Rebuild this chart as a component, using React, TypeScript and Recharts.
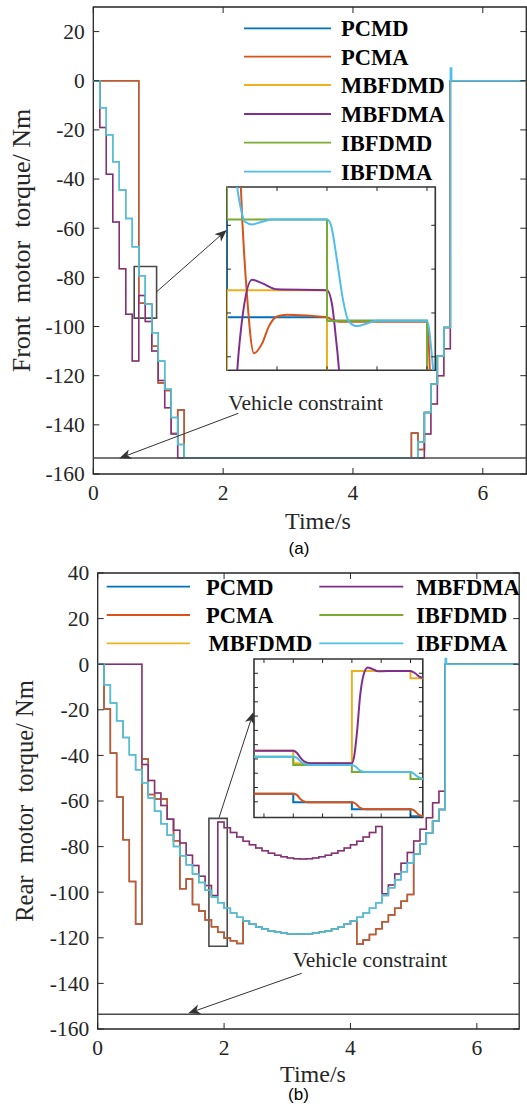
import React from 'react';
import { LineChart, Line, XAxis, YAxis, ReferenceArea } from 'recharts';

// ---------- series meta ----------
const seriesNames = ['PCMD', 'PCMA', 'MBFDMD', 'MBFDMA', 'IBFDMD', 'IBFDMA'];
const seriesColors = ['#0072BD', '#D95319', '#EDB120', '#7E2F8E', '#77AC30', '#4DBEEE'];
const vehicleConstraint = -153.5;
const xTicks = [0, 2, 4, 6];
const frontYTicks = [-160, -140, -120, -100, -80, -60, -40, -20, 0, 20];
const rearYTicks = [-160, -140, -120, -100, -80, -60, -40, -20, 0, 20, 40];

// ---------- (a) front motor torque ----------
const frontTime = [0, 0.1, 0.2, 0.3, 0.4, 0.5, 0.6, 0.7, 0.8, 0.9, 1.0, 1.1, 1.2, 1.3, 1.4, 4.9, 5.0, 5.1, 5.2, 5.3, 5.4, 5.5, 5.52, 6.67];
const frontPCMD = [0, 0, 0, 0, 0, 0, 0, -90.5, -90.9, -108, -123, -126, -143.5, -134, -153.5, -143.3, -150, -135, -123.4, -112, -100.4, 0, 0, 0];
const frontPCMA = [0, 0, 0, 0, 0, 0, 0, -90.5, -90.9, -108, -123, -126, -143.5, -134, -153.5, -143.3, -150, -135, -123.4, -112, -100.4, 0, 0, 0];
const frontMBFDMD = [0, -19, -38, -57.5, -76.5, -95, -114, -87.4, -98, -110, -122, -133, -143.7, -153.5, -153.5, -153.5, -153.5, -143.7, -131.5, -120, -109, 0, 0, 0];
const frontMBFDMA = [0, -19, -38, -57.5, -76.5, -95, -114, -87.4, -98, -110, -122, -133, -143.7, -153.5, -153.5, -153.5, -153.5, -143.7, -131.5, -120, -109, 0, 0, 0];
const frontIBFDMD = [0, -11, -22, -33, -44.5, -56, -67.5, -79.35, -90.9, -102.5, -114, -125.5, -137, -148, -153.5, -153.5, -147, -135, -123.4, -112, -100.4, 0, 0, 0];
const frontIBFDMA = [0, -11, -22, -33, -44.5, -56, -67.5, -79.35, -90.9, -102.5, -114, -125.5, -137, -148, -153.5, -153.5, -147, -135, -123.4, -112, -100.4, 5.2, 0, 0];

// ---------- (b) rear motor torque ----------
const rearTime = [0, 0.1, 0.2, 0.3, 0.4, 0.5, 0.6, 0.7, 0.8, 0.9, 1.0, 1.1, 1.2, 1.3, 1.4, 1.5, 1.6, 1.7, 1.8, 1.9, 2.0, 2.1, 2.2, 2.3, 2.4, 2.5, 2.6, 2.7, 2.8, 2.9, 3.0, 3.1, 3.2, 3.3, 3.4, 3.5, 3.6, 3.7, 3.8, 3.9, 4.0, 4.1, 4.2, 4.3, 4.4, 4.5, 4.6, 4.7, 4.8, 4.9, 5.0, 5.1, 5.2, 5.3, 5.4, 5.5, 5.52, 6.67];
const rearPCMD = [0, -19.7, -39, -58.2, -77, -95.3, -114, -41.6, -57.2, -59.1, -59.1, -68, -77.4, -98.5, -94.2, -105.4, -108.3, -112.2, -115.2, -117.6, -120.1, -121.3, -122.5, -112.6, -114, -115.2, -116.2, -117, -117.6, -118, -118.2, -118.3, -118.3, -118.2, -118, -117.6, -117, -116.2, -115.2, -114, -112.6, -122.7, -121, -118.5, -116, -113, -110, -107, -104, -101, -83.4, -79, -73.9, -68.8, -63.7, 0, 0, 0];
const rearPCMA = [0, -19.7, -39, -58.2, -77, -95.3, -114, -41.6, -57.2, -59.1, -59.1, -68, -77.4, -98.5, -94.2, -105.4, -108.3, -112.2, -115.2, -117.6, -120.1, -121.3, -122.5, -112.6, -114, -115.2, -116.2, -117, -117.6, -118, -118.2, -118.3, -118.3, -118.2, -118, -117.6, -117, -116.2, -115.2, -114, -112.6, -122.7, -121, -118.5, -116, -113, -110, -107, -104, -101, -83.4, -79, -73.9, -68.8, -63.7, 0, 0, 0];
const rearMBFDMD = [0, 0, 0, 0, 0, 0, 0, -44, -51, -56.5, -62, -68, -72.8, -78.4, -83.8, -88.3, -93, -97.1, -101.5, -69.2, -71.7, -73.8, -75.8, -77.6, -79.2, -80.6, -81.8, -82.9, -83.8, -84.5, -85, -85.3, -85.4, -85.3, -85, -84.5, -83.8, -82.9, -81.8, -80.6, -79.2, -77.6, -75.8, -73.8, -71.2, -100.7, -96.8, -92, -87.3, -82.6, -77.5, -72.4, -67.3, -60.8, -55.7, 0, 0, 0];
const rearMBFDMA = [0, 0, 0, 0, 0, 0, 0, -44, -51, -56.5, -62, -68, -72.8, -78.4, -83.8, -88.3, -93, -97.1, -101.5, -69.2, -71.7, -73.8, -75.8, -77.6, -79.2, -80.6, -81.8, -82.9, -83.8, -84.5, -85, -85.3, -85.4, -85.3, -85, -84.5, -83.8, -82.9, -81.8, -80.6, -79.2, -77.6, -75.8, -73.8, -71.2, -100.7, -96.8, -92, -87.3, -82.6, -77.5, -72.4, -67.3, -60.8, -55.7, 0, 0, 0];
const rearIBFDMD = [0, -9, -17, -24.8, -32.1, -39.7, -46.3, -52, -58.7, -64.5, -70, -75, -80, -84, -88, -92, -95.7, -99.2, -102.1, -104.6, -107, -109.1, -111, -112.6, -114, -115.2, -116.2, -117, -117.6, -118, -118.2, -118.3, -118.3, -118.2, -118, -117.6, -117, -116.2, -115.2, -114, -112.6, -111, -109.1, -107, -104.6, -101.5, -98, -94.5, -91, -87.2, -83.4, -79, -73.9, -68.8, -63.7, 0, 0, 0];
const rearIBFDMA = [0, -9, -17, -24.8, -32.1, -39.7, -46.3, -52, -58.7, -64.5, -70, -75, -80, -84, -88, -92, -95.7, -99.2, -102.1, -104.6, -107, -109.1, -111, -112.6, -114, -115.2, -116.2, -117, -117.6, -118, -118.2, -118.3, -118.3, -118.2, -118, -117.6, -117, -116.2, -115.2, -114, -112.6, -111, -109.1, -107, -104.6, -101.5, -98, -94.5, -91, -87.2, -83.4, -79, -73.9, -68.8, -63.7, 2.5, 0, 0];

// ---------- inset of (a) ----------
const frontInsetXTicks = [0.75, 0.8, 0.85, 0.9];
const frontInsetYTicks = [-80, -85, -90, -95];
const fiPCMD_t = [0.69, 0.7, 0.8, 0.9, 0.95];
const fiPCMD_v = [0, -90.5, -90.9, -108, -108];
const fiPCMA_t = [0.69, 0.7, 0.714, 0.72, 0.727, 0.735, 0.742, 0.75, 0.76, 0.8, 0.806, 0.813, 0.9, 0.904, 0.91];
const fiPCMA_v = [0, 0, -76, -88, -94.6, -93.5, -91.5, -90.4, -90.2, -90.5, -90.8, -91, -91, -100, -120];
const fiMBFDMD_t = [0.69, 0.7, 0.8, 0.9, 0.95];
const fiMBFDMD_v = [-114, -87.4, -98, -110, -110];
const fiMBFDMA_t = [0.69, 0.7, 0.705, 0.71, 0.716, 0.725, 0.735, 0.75, 0.8, 0.805, 0.81, 0.815, 0.83];
const fiMBFDMA_v = [-114, -114, -108, -97, -90, -86.2, -86.6, -87.3, -87.4, -89, -94, -99, -99];
const fiIBFDMD_t = [0.69, 0.7, 0.8, 0.9, 0.95];
const fiIBFDMD_v = [-67.5, -79.35, -90.9, -102.5, -102.5];
const fiIBFDMA_t = [0.69, 0.7, 0.706, 0.712, 0.718, 0.725, 0.735, 0.745, 0.8, 0.804, 0.81, 0.816, 0.822, 0.83, 0.84, 0.85, 0.9, 0.905, 0.91];
const fiIBFDMA_v = [-67.5, -67.5, -72, -77, -79.6, -79.9, -79.6, -79.35, -79.35, -80, -84, -88.5, -91, -91.5, -91.2, -90.9, -90.9, -95, -102.5];

// ---------- inset of (b) ----------
const rearInsetXTicks = [1.75, 1.8, 1.85, 1.9, 1.95, 2.0];
const rearInsetYTicks = [-70, -75, -80, -85, -90, -95, -100, -105, -110, -115];
const riPCMD_t = [1.7, 1.8, 1.9, 2.0, 2.1];
const riPCMD_v = [-112.2, -115.2, -117.6, -120.1, -121.3];
const riPCMA_t = [1.7, 1.8, 1.806, 1.812, 1.82, 1.83, 1.9, 1.906, 1.912, 1.92, 1.93, 2.0, 2.006, 2.012, 2.02, 2.03];
const riPCMA_v = [-112.2, -112.2, -112.6, -114, -115, -115.2, -115.2, -115.6, -116.8, -117.5, -117.6, -117.6, -118, -119.2, -120, -120.1];
const riMBFDMD_t = [1.7, 1.8, 1.9, 2.0, 2.1];
const riMBFDMD_v = [-97.1, -101.5, -69.2, -71.7, -73.8];
const riMBFDMA_t = [1.7, 1.8, 1.806, 1.812, 1.82, 1.83, 1.9, 1.904, 1.909, 1.914, 1.92, 1.927, 1.935, 1.945, 1.96, 2.0, 2.008, 2.016, 2.025];
const riMBFDMA_v = [-97.1, -97.1, -97.8, -99.5, -101, -101.5, -101.5, -99, -90, -78, -70.5, -68, -68.5, -69.3, -69.2, -69.2, -70, -71.3, -71.7];
const riIBFDMD_t = [1.7, 1.8, 1.9, 2.0, 2.1];
const riIBFDMD_v = [-99.2, -102.1, -104.6, -107, -109.1];
const riIBFDMA_t = [1.7, 1.8, 1.806, 1.812, 1.82, 1.83, 1.9, 1.906, 1.912, 1.92, 1.93, 2.0, 2.006, 2.012, 2.02, 2.03];
const riIBFDMA_v = [-99.2, -99.2, -99.6, -100.8, -101.8, -102.1, -102.1, -102.6, -103.8, -104.5, -104.6, -104.6, -105.2, -106.2, -106.9, -107];

// ---------- helpers ----------
const AX = '#262626';
const SERIF = '"Liberation Serif","Times New Roman",Times,serif';
const SANS = '"Liberation Sans",Arial,Helvetica,sans-serif';

function buildRows(time: number[], series: number[][]) {
  return time.map((t, i) => {
    const r: any = { t, limit: vehicleConstraint };
    seriesNames.forEach((n, k) => { r[n] = series[k][i]; });
    return r;
  });
}
function pairs(t: number[], v: number[]) {
  return t.map((x, i) => ({ t: x, v: v[i] }));
}

const frontRows = buildRows(frontTime, [frontPCMD, frontPCMA, frontMBFDMD, frontMBFDMA, frontIBFDMD, frontIBFDMA]);
const rearRows = buildRows(rearTime, [rearPCMD, rearPCMA, rearMBFDMD, rearMBFDMA, rearIBFDMD, rearIBFDMA]);

const frontInset = [
  { d: pairs(fiPCMD_t, fiPCMD_v), type: 'stepAfter' },
  { d: pairs(fiPCMA_t, fiPCMA_v), type: 'monotone' },
  { d: pairs(fiMBFDMD_t, fiMBFDMD_v), type: 'stepAfter' },
  { d: pairs(fiMBFDMA_t, fiMBFDMA_v), type: 'monotone' },
  { d: pairs(fiIBFDMD_t, fiIBFDMD_v), type: 'stepAfter' },
  { d: pairs(fiIBFDMA_t, fiIBFDMA_v), type: 'monotone' },
];
const rearInset = [
  { d: pairs(riPCMD_t, riPCMD_v), type: 'stepAfter' },
  { d: pairs(riPCMA_t, riPCMA_v), type: 'monotone' },
  { d: pairs(riMBFDMD_t, riMBFDMD_v), type: 'stepAfter' },
  { d: pairs(riMBFDMA_t, riMBFDMA_v), type: 'monotone' },
  { d: pairs(riIBFDMD_t, riIBFDMD_v), type: 'stepAfter' },
  { d: pairs(riIBFDMA_t, riIBFDMA_v), type: 'monotone' },
];

type G = { left: number; top: number; w: number; h: number };

function yTick(g: G, label: boolean, len: number, fs: number) {
  return (p: any) => (
    <g>
      <line x1={g.left} x2={g.left + len} y1={p.y} y2={p.y} stroke={AX} strokeWidth={1} />
      <line x1={g.left + g.w - len} x2={g.left + g.w} y1={p.y} y2={p.y} stroke={AX} strokeWidth={1} />
      {label && (
        <text x={g.left - 8.5} y={p.y} dy="0.34em" textAnchor="end" fontFamily={SERIF} fontSize={fs} fill={AX}>
          {p.payload.value}
        </text>
      )}
    </g>
  );
}
function xTick(g: G, label: boolean, len: number, fs: number) {
  return (p: any) => (
    <g>
      <line x1={p.x} x2={p.x} y1={g.top + g.h} y2={g.top + g.h - len} stroke={AX} strokeWidth={1} />
      <line x1={p.x} x2={p.x} y1={g.top} y2={g.top + len} stroke={AX} strokeWidth={1} />
      {label && (
        <text x={p.x} y={g.top + g.h + 26.5} textAnchor="middle" fontFamily={SERIF} fontSize={fs} fill={AX}>
          {p.payload.value}
        </text>
      )}
    </g>
  );
}

function MainPanel(props: {
  rows: any[]; top: number; plotLeft: number; plotTop: number; plotW: number; plotH: number;
  yDomain: [number, number]; yTicks: number[]; box: { x1: number; x2: number; y1: number; y2: number };
}) {
  const { rows, top, plotLeft, plotTop, plotW, plotH, yDomain, yTicks, box } = props;
  const right = 20;
  const bottom = 40;
  const g: G = { left: plotLeft, top: plotTop, w: plotW, h: plotH };
  return (
    <div style={{ position: 'absolute', left: 0, top }}>
      <LineChart width={plotLeft + plotW + right} height={plotTop + plotH + bottom} data={rows}
        margin={{ top: plotTop, left: 0, right, bottom: 0 }}>
        <XAxis dataKey="t" type="number" domain={[0, 6.67]} ticks={xTicks} interval={0} allowDataOverflow
          height={bottom} axisLine={false} tickLine={false} tick={xTick(g, true, 6, 21.5)} />
        <YAxis type="number" domain={yDomain} ticks={yTicks} interval={0} allowDataOverflow
          width={plotLeft} axisLine={false} tickLine={false} tick={yTick(g, true, 6, 21.5)} />
        {seriesNames.map((n, k) => (
          <Line key={n} dataKey={n} type="stepAfter" stroke={seriesColors[k]} strokeWidth={1.5}
            dot={false} activeDot={false} isAnimationActive={false} />
        ))}
        <Line dataKey="limit" type="linear" stroke="#4a4a4a" strokeWidth={1.6} dot={false} activeDot={false} isAnimationActive={false} />
        <ReferenceArea x1={box.x1} x2={box.x2} y1={box.y1} y2={box.y2} fill="none" fillOpacity={0} stroke="#4a4a4a" strokeWidth={1.6} />
        <ReferenceArea x1={0} x2={6.67} y1={yDomain[0]} y2={yDomain[1]} fill="none" fillOpacity={0} stroke={AX} strokeWidth={1.3} />
      </LineChart>
    </div>
  );
}

function InsetPanel(props: {
  left: number; top: number; w: number; h: number; xDomain: [number, number]; yDomain: [number, number];
  xt: number[]; yt: number[]; lines: { d: any[]; type: string }[];
}) {
  const { left, top, w, h, xDomain, yDomain, xt, yt, lines } = props;
  const m = 2;
  const g: G = { left: m, top: m, w, h };
  return (
    <div style={{ position: 'absolute', left, top, width: w, height: h, background: '#fff' }}>
      <div style={{ position: 'absolute', left: -m, top: -m }}>
        <LineChart width={w + 2 * m} height={h + 2 * m} margin={{ top: m, left: 0, right: m, bottom: 0 }}>
          <XAxis dataKey="t" type="number" domain={xDomain} ticks={xt} interval={0} allowDataOverflow
            height={m} axisLine={false} tickLine={false} tick={xTick(g, false, 4, 10)} />
          <YAxis type="number" domain={yDomain} ticks={yt} interval={0} allowDataOverflow
            width={m} axisLine={false} tickLine={false} tick={yTick(g, false, 4, 10)} />
          {lines.map((l, k) => (
            <Line key={k} data={l.d} dataKey="v" type={l.type as any} stroke={seriesColors[k]} strokeWidth={2}
              dot={false} activeDot={false} isAnimationActive={false} />
          ))}
          <ReferenceArea x1={xDomain[0]} x2={xDomain[1]} y1={yDomain[0]} y2={yDomain[1]} fill="none" fillOpacity={0} stroke="#333" strokeWidth={1.6} />
        </LineChart>
      </div>
    </div>
  );
}

function Arrow({ x1, y1, x2, y2 }: { x1: number; y1: number; x2: number; y2: number }) {
  const dx = x2 - x1, dy = y2 - y1;
  const L = Math.hypot(dx, dy);
  const ux = dx / L, uy = dy / L;
  const px = -uy, py = ux;
  const hl = 12, hw = 5;
  const bx = x2 - ux * hl, by = y2 - uy * hl;
  const nx = x2 - ux * hl * 0.72, ny = y2 - uy * hl * 0.72;
  const pts = `${x2},${y2} ${bx + px * hw},${by + py * hw} ${nx},${ny} ${bx - px * hw},${by - py * hw}`;
  return (
    <g>
      <line x1={x1} y1={y1} x2={nx} y2={ny} stroke="#333" strokeWidth={1} />
      <polygon points={pts} fill="#333" />
    </g>
  );
}

function LegendEntry({ x1, x2, tx, y, k }: { x1: number; x2: number; tx: number; y: number; k: number }) {
  return (
    <g>
      <line x1={x1} x2={x2} y1={y} y2={y} stroke={seriesColors[k]} strokeWidth={1.8} />
      <text x={tx} y={y + 8} fontFamily={SERIF} fontWeight="bold" fontSize={22.5} fill="#000">{seriesNames[k]}</text>
    </g>
  );
}

export default function App() {
  const frontLegendRows = [28.3, 56.7, 85, 114, 142.7, 171.7];
  const rearLegend = [
    { k: 0, x1: 106.7, x2: 190, tx: 206, y: 586.7 },
    { k: 1, x1: 106.7, x2: 190, tx: 206, y: 615 },
    { k: 2, x1: 106.7, x2: 190, tx: 208.5, y: 643.3 },
    { k: 3, x1: 319.3, x2: 403.3, tx: 416, y: 586.7 },
    { k: 4, x1: 319.3, x2: 403.3, tx: 416, y: 615 },
    { k: 5, x1: 319.3, x2: 403.3, tx: 416, y: 643.3 },
  ];
  return (
    <div style={{ position: 'absolute', left: 0, top: 0, width: 527, height: 1108, overflow: 'hidden', background: '#fff' }}>
      <MainPanel rows={frontRows} top={0} plotLeft={93.3} plotTop={7} plotW={433} plotH={467}
        yDomain={[-160, 30]} yTicks={frontYTicks} box={{ x1: 0.63, x2: 0.975, y1: -96.6, y2: -75.6 }} />
      <MainPanel rows={rearRows} top={550} plotLeft={97.7} plotTop={23} plotW={421.5} plotH={456}
        yDomain={[-160, 40]} yTicks={rearYTicks} box={{ x1: 1.76, x2: 2.05, y1: -123.7, y2: -67.6 }} />
      <InsetPanel left={226.7} top={186.7} w={208.3} h={183.3} xDomain={[0.7, 0.9083]} yDomain={[-96.54, -75.63]}
        xt={frontInsetXTicks} yt={frontInsetYTicks} lines={frontInset} />
      <InsetPanel left={253.5} top={659} w={168.8} h={158.5} xDomain={[1.733, 2.021]} yDomain={[-120.5, -65]}
        xt={rearInsetXTicks} yt={rearInsetYTicks} lines={rearInset} />
      <svg width={527} height={1108} style={{ position: 'absolute', left: 0, top: 0, pointerEvents: 'none' }}>
        {frontLegendRows.map((y, k) => (
          <LegendEntry key={k} k={k} x1={244} x2={331} tx={341} y={y} />
        ))}
        {rearLegend.map((e) => (
          <LegendEntry key={e.k} k={e.k} x1={e.x1} x2={e.x2} tx={e.tx} y={e.y} />
        ))}
        <text transform="translate(30,240.5) rotate(-90)" textAnchor="middle" fontFamily={SERIF} fontSize={26} fill={AX} style={{ whiteSpace: 'pre' }}>
          Front  motor  torque/ Nm
        </text>
        <text transform="translate(33,801) rotate(-90)" textAnchor="middle" fontFamily={SERIF} fontSize={24.5} fill={AX} style={{ whiteSpace: 'pre' }}>
          Rear  motor  torque/ Nm
        </text>
        <text x={318} y={529} textAnchor="middle" fontFamily={SERIF} fontSize={24} fill={AX}>Time/s</text>
        <text x={313} y={1082} textAnchor="middle" fontFamily={SERIF} fontSize={24} fill={AX}>Time/s</text>
        <text x={299} y={554} textAnchor="middle" fontFamily={SANS} fontSize={17} fill="#000">(a)</text>
        <text x={298.5} y={1100} textAnchor="middle" fontFamily={SANS} fontSize={17} fill="#000">(b)</text>
        <text x={228.3} y={410} fontFamily={SERIF} fontSize={21.5} fill={AX}>Vehicle constraint</text>
        <text x={292.7} y={967} fontFamily={SERIF} fontSize={21.5} fill={AX}>Vehicle constraint</text>
        <Arrow x1={238.3} y1={413.3} x2={119.3} y2={458.3} />
        <Arrow x1={301.7} y1={973.3} x2={188.3} y2={1013.3} />
        <Arrow x1={156.7} y1={291.7} x2={226.7} y2={230} />
        <Arrow x1={219} y1={817.7} x2={253.5} y2={712} />
      </svg>
    </div>
  );
}
